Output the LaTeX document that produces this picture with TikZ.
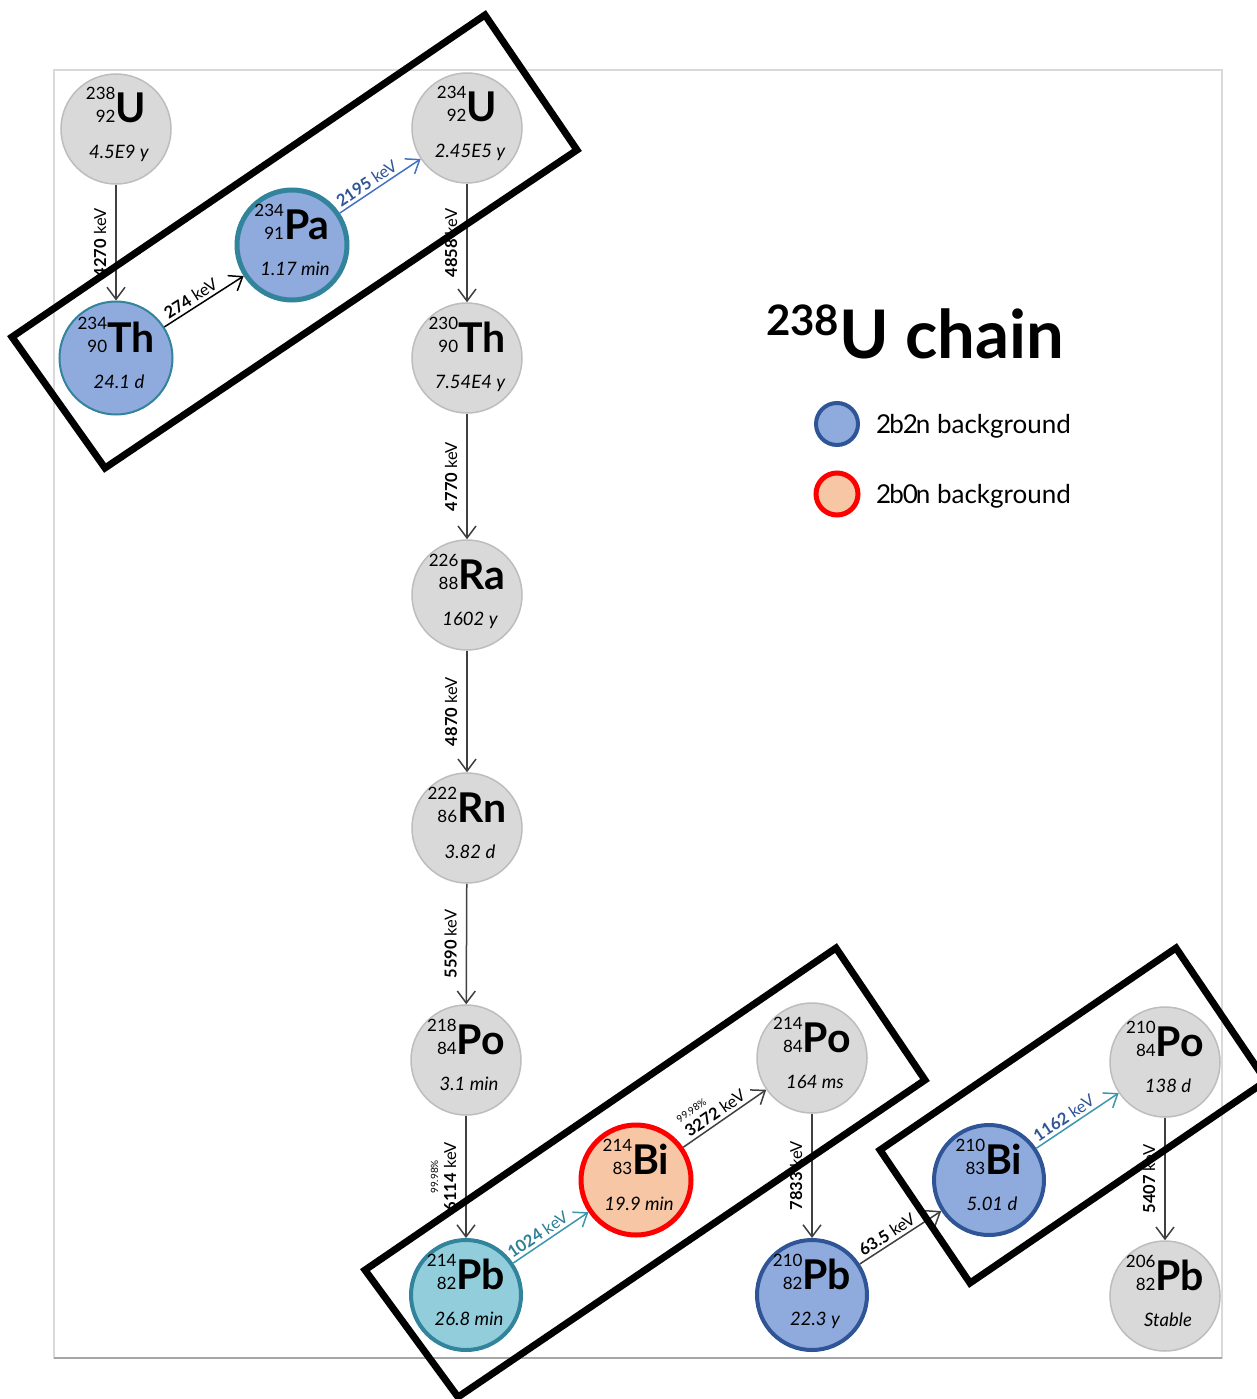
\documentclass[tikz,border=0pt]{standalone}
\usepackage{fontspec}
\setmainfont{Lato}
\usetikzlibrary{arrows.meta,calc}
\definecolor{nucgray}{HTML}{D9D9D9}
\definecolor{nucgrayline}{HTML}{BDBDBD}
\definecolor{nucblue}{HTML}{8FAADC}
\definecolor{nucteal}{HTML}{31849B}
\definecolor{nucdkblue}{HTML}{2F5597}
\definecolor{nuclteal}{HTML}{92CDDC}
\definecolor{nucpeach}{HTML}{F6C6A5}
\definecolor{arrowgray}{HTML}{404040}
\definecolor{framegray}{HTML}{D9D9D9}
\definecolor{bluearrow}{HTML}{4472C4}
\definecolor{tealarrow}{HTML}{3A97AE}
\definecolor{bluelab}{HTML}{2F5597}
\definecolor{teallab}{HTML}{2E7F96}
\newcommand\isostack[2]{{\fontsize{17}{23}\selectfont\begin{tabular}[b]{@{}r@{}}#1\\#2\end{tabular}}}
\newcommand\nucl[8]{%
  \node[#8] (#1) at (#2,#3) {};
  \node[anchor=base, inner sep=0pt] (#1-sym) at ([yshift=6pt]#1.center)
    {\isostack{#4}{#5}{\fontsize{41}{41}\selectfont\bfseries #6}};
  \node[anchor=base, inner sep=0pt] (#1-hl) at ([yshift=-30pt,xshift=3pt]#1.center)
    {\fontsize{18.5}{18.5}\selectfont\itshape #7};
}
\tikzset{
  nuc/.style={circle, minimum size=110pt, inner sep=0pt, fill=nucgray, draw=nucgrayline, line width=1.5pt},
  nucth/.style={nuc, minimum size=113pt, fill=nucblue, draw=nucteal, line width=2pt},
  nucpa/.style={nuc, minimum size=110pt, fill=nucblue, draw=nucteal, line width=5pt},
  nucpbt/.style={nuc, minimum size=110pt, fill=nuclteal, draw=nucteal, line width=4pt},
  nucbi/.style={nuc, minimum size=110pt, fill=nucpeach, draw=red, line width=5pt},
  nucdb/.style={nuc, minimum size=110pt, fill=nucblue, draw=nucdkblue, line width=4pt},
  arr/.style={draw=arrowgray, line width=1.5pt, -{Straight Barb[length=12pt,width=18pt,line width=1.5pt]}},
  vlab/.style={midway, rotate=90, anchor=south, inner sep=9pt, text=black, font=\fontsize{16.5}{18}\selectfont, align=center},
  dlab/.style={pos=0.4, sloped, above, inner sep=3pt, text=black, font=\fontsize{16.5}{18}\selectfont},
  boxline/.style={draw=black, line width=7pt, line join=miter},
  legtext/.style={anchor=base west, inner sep=0pt, font=\fontsize{26}{26}\selectfont}
}
\begin{document}
\begin{tikzpicture}[x=1pt, y=-1pt]
\useasboundingbox (0,0) rectangle (1257,1399);
\fill[white] (0,0) rectangle (1257,1399);
% frame
\draw[framegray, line width=2pt] (54,70) rectangle (1222,1358);
\draw[black!35, line width=2.5pt] (54,1358) -- (1222,1358);

% nuclides
\nucl{U238}{116}{129}{238}{92}{U}{4.5E9 y}{nuc}
\nucl{Th234}{116}{358}{234}{90}{Th}{24.1 d}{nucth}
\nucl{Pa234}{292}{245}{234}{91}{Pa}{1.17 min}{nucpa}
\nucl{U234}{467}{128}{234}{92}{U}{2.45E5 y}{nuc}
\nucl{Th230}{467}{358}{230}{90}{Th}{7.54E4 y}{nuc}
\nucl{Ra226}{467}{595}{226}{88}{Ra}{1602 y}{nuc}
\nucl{Rn222}{467}{828}{222}{86}{Rn}{3.82 d}{nuc}
\nucl{Po218}{466}{1060}{218}{84}{Po}{3.1 min}{nuc}
\nucl{Pb214}{466}{1295}{214}{82}{Pb}{26.8 min}{nucpbt}
\nucl{Bi214}{636}{1180}{214}{83}{Bi}{19.9 min}{nucbi}
\nucl{Po214}{812}{1058}{214}{84}{Po}{164 ms}{nuc}
\nucl{Pb210}{812}{1295}{210}{82}{Pb}{22.3 y}{nucdb}
\nucl{Bi210}{989}{1180}{210}{83}{Bi}{5.01 d}{nucdb}
\nucl{Po210}{1165}{1062}{210}{84}{Po}{138 d}{nuc}
\nucl{Pb206}{1165}{1296}{206}{82}{Pb}{Stable}{nuc}

% decays
\draw[arr] (U238) -- node[vlab] {\textbf{4270} keV} (Th234);
\draw[arr, draw=black] (Th234) -- node[dlab] {\textbf{274} keV} (Pa234);
\draw[arr, draw=bluearrow] (Pa234) -- node[dlab, text=bluelab] {\textbf{2195} keV} (U234);
\draw[arr] (U234) -- node[vlab] {\textbf{4858} keV} (Th230);
\draw[arr] (Th230) -- node[vlab] {\textbf{4770} keV} (Ra226);
\draw[arr] (Ra226) -- node[vlab] {\textbf{4870} keV} (Rn222);
\draw[arr] (Rn222) -- node[vlab] {\textbf{5590} keV} (Po218);
\draw[arr] (Po218) -- node[vlab] {{\fontsize{10}{11}\selectfont 99.98\%}\\\textbf{6114} keV} (Pb214);
\draw[arr, draw=tealarrow] (Pb214) -- node[dlab, text=teallab] {\textbf{1024} keV} (Bi214);
\draw[arr] (Bi214) -- node[dlab, pos=0.45, align=left] {{\fontsize{10}{11}\selectfont 99.98\%}\\\textbf{3272} keV} (Po214);
\draw[arr] (Po214) -- node[vlab] {\textbf{7833} keV} (Pb210);
\draw[arr] (Pb210) -- node[dlab] {\textbf{63.5} keV} (Bi210);
\draw[arr, draw=tealarrow] (Bi210) -- node[dlab, text=bluelab] {\textbf{1162} keV} (Po210);
\draw[arr] (Po210) -- node[vlab] {\textbf{5407} keV} (Pb206);

% title and legend
\node[anchor=base west, inner sep=0pt] (title) at (766,358)
  {\bfseries\fontsize{67}{67}\selectfont\raisebox{23pt}{\fontsize{42}{42}\selectfont 238}U chain};
\node[circle, minimum size=42pt, inner sep=0pt, fill=nucblue, draw=nucdkblue, line width=4pt] (legB) at (837,424) {};
\node[legtext] (legBt) at (876,433) {2\kern-2pt b\kern-1pt 2\kern-2pt n background};
\node[circle, minimum size=42pt, inner sep=0pt, fill=nucpeach, draw=red, line width=5pt] (legR) at (837,494) {};
\node[legtext] (legRt) at (876,503) {2\kern-2pt b\kern-1pt 0\kern-2pt n background};

% highlight boxes
\draw[boxline] (12,337) -- (485,15) -- (577,150) -- (105,468) -- cycle;
\draw[boxline] (365,1270) -- (836,948) -- (925,1080) -- (458,1397) -- cycle;
\draw[boxline] (880,1150) -- (1176,948) -- (1266,1081) -- (970,1283) -- cycle;
\end{tikzpicture}
\end{document}
